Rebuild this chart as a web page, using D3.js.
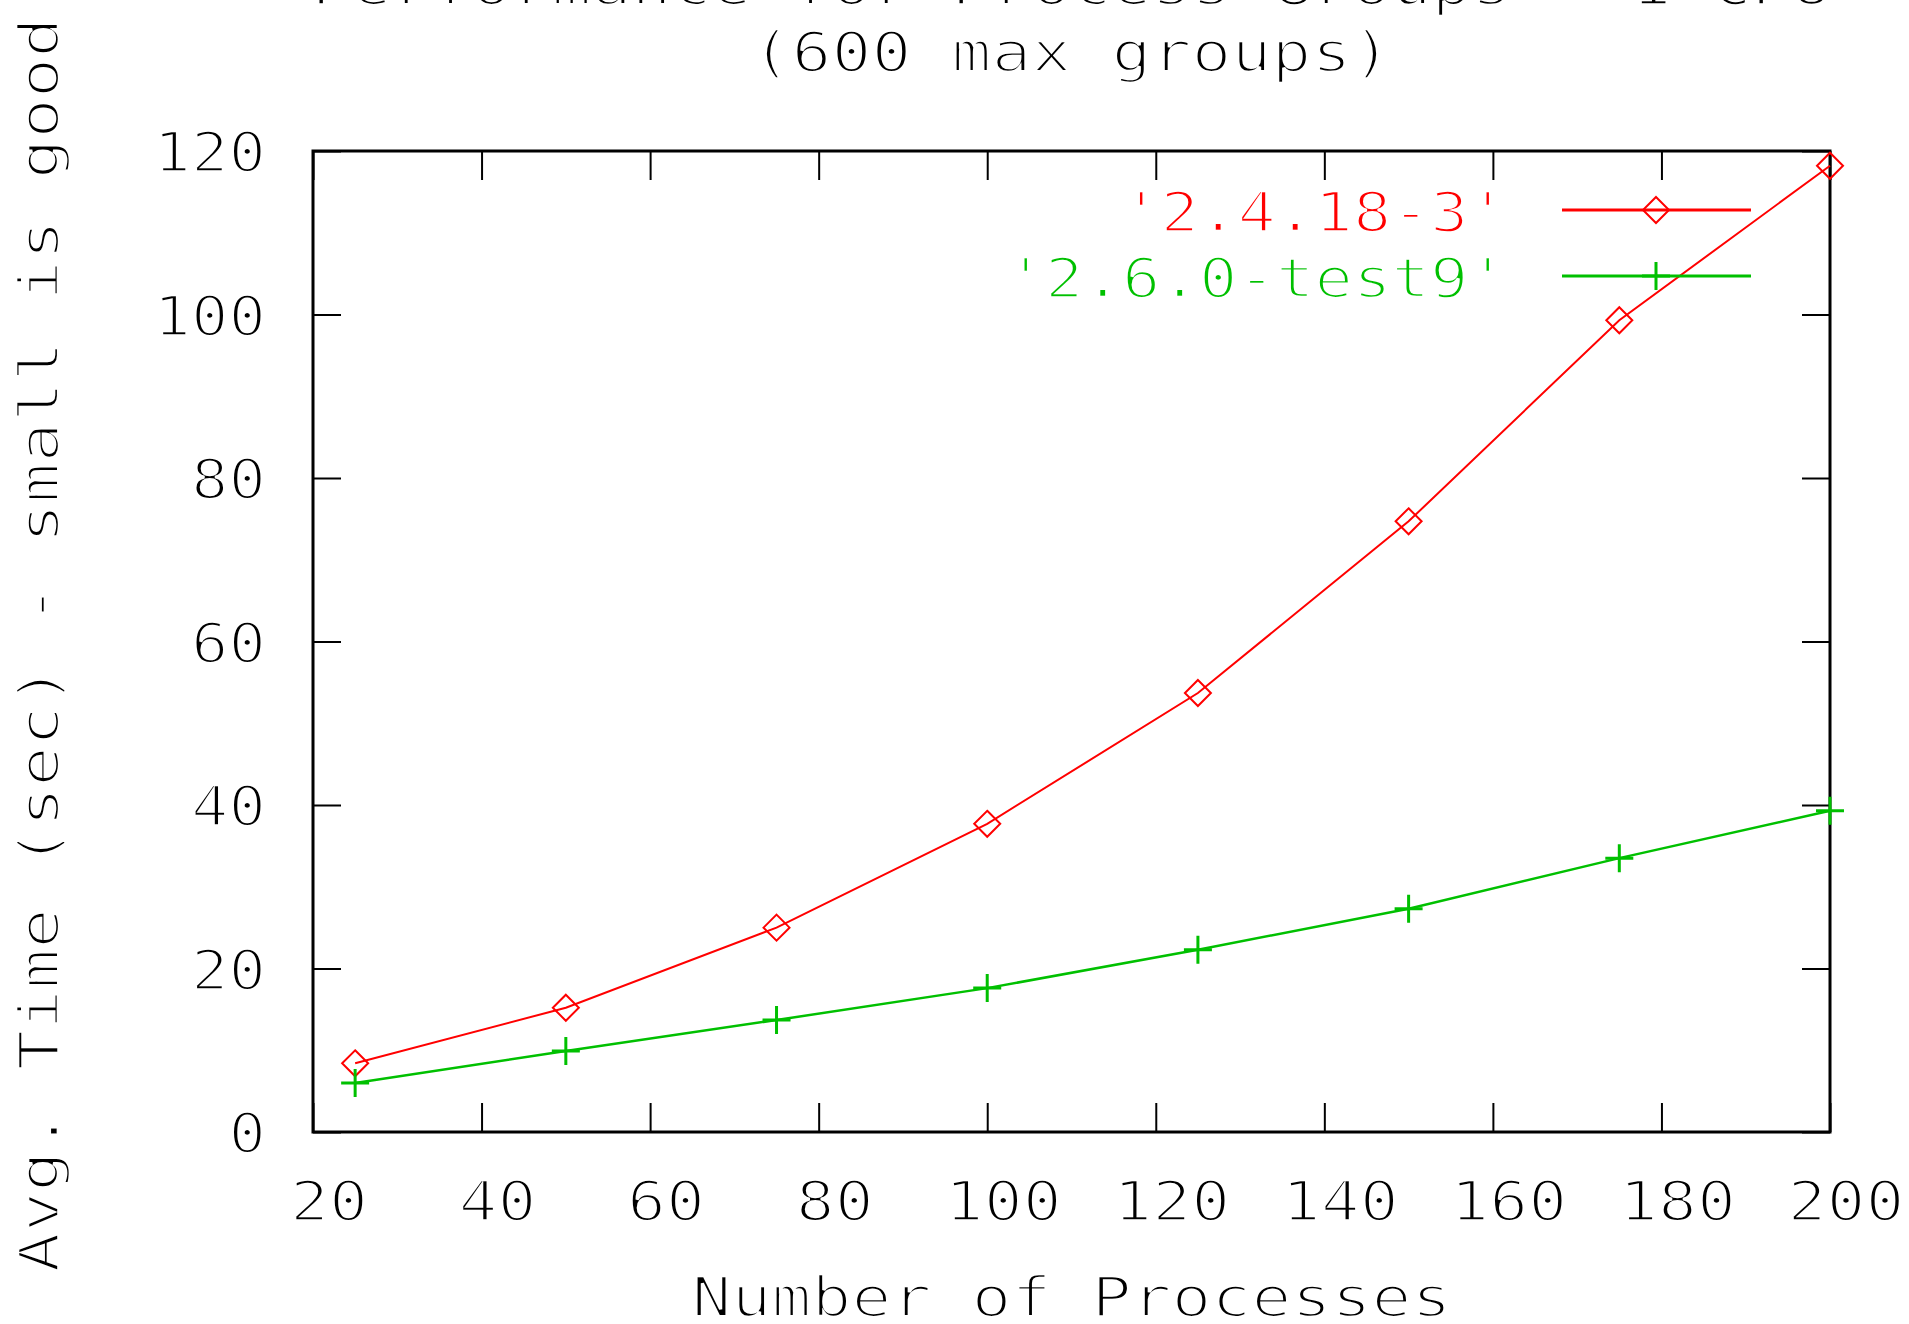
<!DOCTYPE html>
<html>
<head>
<meta charset="utf-8">
<script src="https://cdn.jsdelivr.net/npm/d3@7"></script>
<style>
  body { margin: 0; background: #fff; }
  /* white outline thins the glyphs towards the plotter-font look */
  text { font-family: "DejaVu Sans Mono", monospace; font-size: 56px;
         stroke: #fff; stroke-width: 2.6px; }
</style>
</head>
<body>
<script>
// Data
let processes = [25, 50, 75, 100, 125, 150, 175, 200];
let kernel24 = [8.4, 15.2, 25.0, 37.7, 53.7, 74.7, 99.3, 118.2];
let kernel26 = [6.0, 9.9, 13.7, 17.6, 22.3, 27.3, 33.5, 39.3];
let seriesNames = ["'2.4.18-3'", "'2.6.0-test9'"];
let xTicks = [20, 40, 60, 80, 100, 120, 140, 160, 180, 200];
let yTicks = [0, 20, 40, 60, 80, 100, 120];
let titleLines = ["Performance for Process Groups - 1 CPU", "(600 max groups)"];
let xTitle = "Number of Processes";
let yTitle = "Avg. Time (sec) - small is good";

let W = 1909, H = 1324;
// plot frame (window.top is taken, so use px* names)
let pxL = 313, pxR = 1830, pxT = 151, pxB = 1132;

let svg = d3.select("body").append("svg")
            .attr("width", W)
            .attr("height", H);

let x = d3.scaleLinear().domain([20, 200]).range([pxL, pxR]);
let y = d3.scaleLinear().domain([0, 120]).range([pxB, pxT]);

// stretched mono text, gnuplot style
function label(g, str, adv) {
    return g.append("text")
            .text(str)
            .attr("textLength", str.length * adv)
            .attr("lengthAdjust", "spacingAndGlyphs")
            .attr("fill", "black");
}

// Titles (first line sits mostly above the top edge, as in the source image)
titleLines.forEach((t, i) => {
    label(svg, t, 40)
        .attr("x", (pxL + pxR) / 2)
        .attr("y", 4 + i * 67)
        .attr("text-anchor", "middle");
});

label(svg, xTitle, 40)
    .attr("x", (pxL + pxR) / 2)
    .attr("y", 1316)
    .attr("text-anchor", "middle");

label(svg, yTitle, 40.5)
    .attr("text-anchor", "middle")
    .attr("transform", `translate(58, 645) rotate(-90)`);

// Axes (ticks inward, mirrored)
let tickStyle = g => {
    g.select(".domain").remove();
    g.selectAll(".tick line").attr("stroke", "black").attr("stroke-width", 2);
};

svg.append("g")
    .attr("transform", `translate(0,${pxB})`)
    .call(d3.axisBottom(x).tickValues(xTicks).tickSize(-29).tickFormat(""))
    .call(tickStyle);
svg.append("g")
    .attr("transform", `translate(0,${pxT})`)
    .call(d3.axisTop(x).tickValues(xTicks).tickSize(-29).tickFormat(""))
    .call(tickStyle);
svg.append("g")
    .attr("transform", `translate(${pxL},0)`)
    .call(d3.axisLeft(y).tickValues(yTicks).tickSize(-28).tickFormat(""))
    .call(tickStyle);
svg.append("g")
    .attr("transform", `translate(${pxR},0)`)
    .call(d3.axisRight(y).tickValues(yTicks).tickSize(-28).tickFormat(""))
    .call(tickStyle);

// tick labels
let xLab = svg.append("g");
xTicks.forEach(v => {
    label(xLab, String(v), 39)
        .attr("x", x(v) + 16)
        .attr("y", 1220)
        .attr("text-anchor", "middle");
});
let yLab = svg.append("g");
yTicks.forEach(v => {
    label(yLab, String(v), 37.5)
        .attr("x", 266)
        .attr("y", y(v) + 20)
        .attr("text-anchor", "end");
});

// frame
svg.append("rect")
    .attr("x", pxL).attr("y", pxT)
    .attr("width", pxR - pxL).attr("height", pxB - pxT)
    .attr("fill", "none")
    .attr("stroke", "black")
    .attr("stroke-width", 3);

// Series
let series = [
    { name: seriesNames[0], values: kernel24, color: "#ff0000", width: 2, marker: "diamond", ly: 210 },
    { name: seriesNames[1], values: kernel26, color: "#00c000", width: 2.5, marker: "plus", ly: 276 }
];

let line = d3.line()
             .x(d => x(d[0]))
             .y(d => y(d[1]));

function drawMarker(g, cx, cy, s) {
    let d = s.marker === "diamond"
        ? `M${cx},${cy - 13}L${cx + 13},${cy}L${cx},${cy + 13}L${cx - 13},${cy}Z`
        : `M${cx - 14},${cy}H${cx + 14}M${cx},${cy - 14}V${cy + 14}`;
    g.append("path")
        .attr("d", d)
        .attr("fill", "none")
        .attr("stroke", s.color)
        .attr("stroke-width", s.marker === "diamond" ? 2 : 3);
}

series.forEach(s => {
    let pts = processes.map((p, i) => [p, s.values[i]]);
    let g = svg.append("g");

    // legend entry first so the data line crosses over it
    label(g, s.name, 38.5)
        .attr("x", 1507)
        .attr("y", s.ly + 21)
        .attr("text-anchor", "end")
        .attr("fill", s.color);
    g.append("line")
        .attr("x1", 1562).attr("x2", 1751)
        .attr("y1", s.ly).attr("y2", s.ly)
        .attr("stroke", s.color)
        .attr("stroke-width", 3);
    drawMarker(g, 1656, s.ly, s);

    g.append("path")
        .datum(pts)
        .attr("d", line)
        .attr("fill", "none")
        .attr("stroke", s.color)
        .attr("stroke-width", s.width);
    pts.forEach(d => drawMarker(g, x(d[0]), y(d[1]), s));
});
</script>
</body>
</html>
